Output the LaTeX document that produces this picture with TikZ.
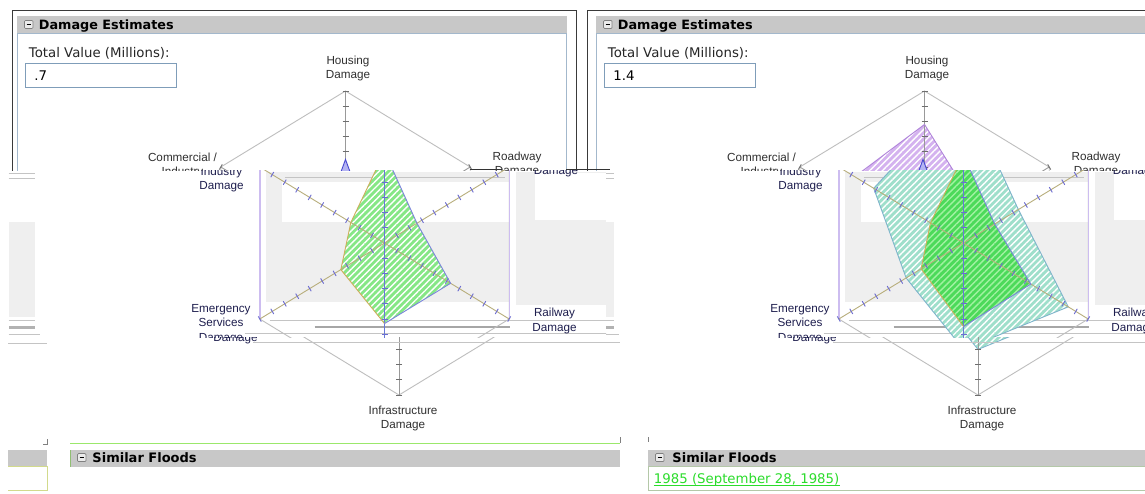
\documentclass[tikz,border=0pt]{standalone}
\usepackage{fontspec}
\setmainfont{DejaVu Sans}
\newfontfamily\arialf{Liberation Sans}
\usetikzlibrary{patterns.meta}
\definecolor{hdrgrey}{HTML}{C8C8C8}
\definecolor{boxblue}{HTML}{A3B8CC}
\definecolor{fieldblue}{HTML}{7F9DB9}
\definecolor{hexcol}{HTML}{BEBEBE}
\definecolor{axgrey}{HTML}{999999}
\definecolor{tickgrey}{HTML}{6E6E6E}
\definecolor{khaki}{HTML}{B8AE7C}
\definecolor{tickblue}{HTML}{6B6BD0}
\definecolor{axblue}{HTML}{6878D8}
\definecolor{lav}{HTML}{CDBDF0}
\definecolor{artgrey}{HTML}{EFEFEF}
\definecolor{artline}{HTML}{C4C4C4}
\definecolor{grnA}{HTML}{86E786}
\definecolor{grnB}{HTML}{4CDA5A}
\definecolor{grnBs}{HTML}{A2F2A2}
\definecolor{teal1}{HTML}{9FDFCB}
\definecolor{tealedge}{HTML}{80B4CC}
\definecolor{purp}{HTML}{D4B2EF}
\definecolor{purpedge}{HTML}{B084DA}
\definecolor{spikef}{HTML}{B4B4F2}
\definecolor{spikee}{HTML}{4848D0}
\definecolor{edgegold}{HTML}{CFAE5C}
\definecolor{edgeblue}{HTML}{7C84DC}
\definecolor{lbltop}{HTML}{303030}
\definecolor{lblmid}{HTML}{1E1E4E}
\definecolor{linkgreen}{HTML}{2BDC2B}
\definecolor{sepgreen}{HTML}{9BE86B}
\definecolor{framek}{HTML}{3A3A3A}
\definecolor{boxyellow}{HTML}{D2DA8C}
\definecolor{boxgreen}{HTML}{B4C8A8}

\newcommand\hdrfont{\fontsize{12.8}{15}\selectfont\bfseries}
\newcommand\uifont{\fontsize{13.3}{16}\selectfont}
\newcommand\sfhfont{\fontsize{13}{16}\selectfont\bfseries}
\newcommand\lblfont{\arialf\fontsize{11.7}{14}\selectfont}

\tikzset{
  hatchw/.style={postaction={pattern={Lines[angle=45,distance=4.5pt,line width=1.4pt]},pattern color=#1}},
  axlbl/.style={anchor=base,font=\lblfont,text=#1,inner sep=0pt},
}

% hexagon outline
\newcommand\myhexa[3]{%
  \draw[#3] (#1,{#2-152}) -- ({#1+124.7},{#2-76}) -- ({#1+124.7},{#2+76}) -- (#1,{#2+152}) -- ({#1-124.7},{#2+76}) -- ({#1-124.7},{#2-76}) -- cycle;}
% spokes with ticks
\newcommand\myspokes[4]{%
  \foreach \a in {90,30,-30,-90,210,150}{%
    \draw[#3] (#1,#2) -- ({#1+144*cos(\a)},{#2-152*sin(\a)});
    \foreach \k in {1,...,10}{%
      \draw[#4] ({#1+\k*14.4*cos(\a)-3*sin(\a)},{#2-\k*15.2*sin(\a)-3*cos(\a)}) -- ({#1+\k*14.4*cos(\a)+3*sin(\a)},{#2-\k*15.2*sin(\a)+3*cos(\a)});
    }%
  }%
}
% data points
\newcommand\myrpts[8]{%
  \coordinate (pH) at (#1,{#2-#3*152});
  \coordinate (pR) at ({#1+#4*124.7},{#2-#4*76});
  \coordinate (pRl) at ({#1+#5*124.7},{#2+#5*76});
  \coordinate (pI) at (#1,{#2+#6*152});
  \coordinate (pE) at ({#1-#7*124.7},{#2+#7*76});
  \coordinate (pC) at ({#1-#8*124.7},{#2-#8*76});}
\newcommand\mypolypath{(pH) -- (pR) -- (pRl) -- (pI) -- (pE) -- (pC) -- cycle}
% axis labels, split by the band in which they show
\newcommand\labelstop[2]{%
  \node[axlbl=lbltop] (lh1) at ({#1+2.5},{#2-178.5}) {Housing};
  \node[axlbl=lbltop] (lh2) at ({#1+2.5},{#2-164.5}) {Damage};
  \node[axlbl=lbltop] (lc1) at ({#1-163},{#2-82}) {Commercial /};
  \node[axlbl=lbltop] (lct) at ({#1-163},{#2-68}) {Industry};
  \node[axlbl=lbltop] (lr1) at ({#1+171.5},{#2-83}) {Roadway};
  \node[axlbl=lbltop] (lrt) at ({#1+171.5},{#2-69}) {Damage};}
\newcommand\labelsmid[2]{%
  \node[axlbl=lblmid] (lc2) at ({#1-163},{#2-68}) {Industry};
  \node[axlbl=lblmid] (lc3) at ({#1-163},{#2-54}) {Damage};
  \node[axlbl=lblmid] (lr2) at ({#1+171.5},{#2-69}) {Damage};
  \node[axlbl=lblmid] (ll1) at ({#1+170},{#2+73}) {Railway};
  \node[axlbl=lblmid] (ll2) at ({#1+170},{#2+88}) {Damage};
  \node[axlbl=lblmid] (le1) at ({#1-163.5},{#2+69}) {Emergency};
  \node[axlbl=lblmid] (le2) at ({#1-163.5},{#2+83.5}) {Services};
  \node[axlbl=lblmid] (le3) at ({#1-163.5},{#2+98}) {Damage};}
\newcommand\labelsbot[2]{%
  \node[axlbl=lblmid] (leb) at ({#1-163.5},{#2+98}) {Damage};
  \node[axlbl=lbltop] (li1) at ({#1+4},{#2+171}) {Infrastructure};
  \node[axlbl=lbltop] (li2) at ({#1+4},{#2+185}) {Damage};}
% top part of a panel
\newcommand\mypaneltop[3]{%
  \draw[framek, line width=1pt] (#2,175) -- (#2,10.5) -- ({576+#1},10.5) -- ({576+#1},175);
  \fill[hdrgrey] ({16.5+#1},16) rectangle ({566.5+#1},33);
  \draw[boxblue, line width=1pt] ({17+#1},175) -- ({17+#1},33) -- ({566+#1},33) -- ({566+#1},175);
  \draw[fill=black!8, draw=gray, line width=0.7pt, rounded corners=1pt] ({24.5+#1},20.5) rectangle ({33+#1},28.5);
  \draw[black, line width=1.2pt] ({26.5+#1},24.5) -- ({31+#1},24.5);
  \node[anchor=base west, font=\hdrfont, inner sep=0pt] (hdr#1) at ({38.5+#1},29.8) {Damage Estimates};
  \node[anchor=base west, font=\uifont, text=black!85, inner sep=0pt] (tv#1) at ({28.5+#1},57.5) {Total Value (Millions):};
  \draw[fieldblue, line width=1pt] ({25+#1},63.5) rectangle ({176.5+#1},87);
  \node[anchor=base west, font=\uifont, inner sep=0pt] (val#1) at ({34+#1},80.5) {#3};}
% middle-band artefacts
\newcommand\mymidart[1]{%
  \fill[artgrey] ({#1-376},222) rectangle ({#1-350},317);
  \fill[artgrey] ({#1-119},172) rectangle ({#1+125},302);
  \fill[white] ({#1-103},182) rectangle ({#1+125},222);
  \fill[artgrey] ({#1+131},172) rectangle ({#1+221},305);
  \fill[white] ({#1+150},173) rectangle ({#1+221},220);
  \draw[artline] ({#1-376},173) -- ({#1-350},173);
  \draw[artline] ({#1-376},178) -- ({#1-350},178);
  \draw[artline] ({#1-100},177) -- ({#1+120},177);
  \draw[artline] ({#1-376},320) -- ({#1-350},320);
  \fill[black!30] ({#1-376},325.5) rectangle ({#1-350},329);
  \draw[artline] ({#1-376},334) -- ({#1-345},334);
  \draw[artline] ({#1-115},320.5) -- ({#1+221},320.5);
  \draw[black!35,line width=1.6pt] ({#1-70},327) -- ({#1+125},327);
  \draw[artline] ({#1-140},333) -- ({#1+235},333);}
\newcommand\mymidaxes[1]{%
  \myhexa{#1}{243}{hexcol}
  \draw[lav, line width=1.4pt] ({#1-124.7},170) -- ({#1-124.7},319);
  \draw[lav, line width=1.4pt] ({#1+124.7},170) -- ({#1+124.7},319);
  \myspokes{#1}{243}{khaki}{tickblue}
  \draw[axblue] (#1,91) -- (#1,395);}

\begin{document}
\begin{tikzpicture}[x=1pt,y=-1pt,line width=0.9pt]
\fill[white] (0,0) rectangle (1145,493);
\useasboundingbox (0,0) rectangle (1145,493);

% ================= TOP BAND =================
\begin{scope}
  \clip (0,0) rectangle (1145,170);
  \mypaneltop{0}{12}{.7}
  \mypaneltop{579}{587}{1.4}
  % left chart (state A)
  \myhexa{345.5}{243}{hexcol}
  \myspokes{345.5}{243}{axgrey}{tickgrey}
  \myrpts{345.5}{243}{.55}{.2}{.05}{.05}{.05}{.2}
  \draw[fill=spikef, draw=spikee] \mypolypath;
  \labelstop{345.5}{243}
  % right chart (state A)
  \myrpts{924.5}{243}{.78}{.43}{.3}{.3}{.3}{.70}
  \fill[purp, hatchw=white] \mypolypath;
  \myhexa{924.5}{243}{hexcol}
  \myspokes{924.5}{243}{axgrey}{tickgrey}
  \draw[purpedge] \mypolypath;
  \myrpts{923}{243}{.55}{.2}{.05}{.05}{.05}{.2}
  \draw[fill=spikef, draw=spikee] \mypolypath;
  \labelstop{924.5}{243}
  \draw[black!80] (566,169.5) -- (610,169.5);
  \draw[black!80] (470,169.5) -- (502,169.5);
\end{scope}

% ================= MIDDLE BAND =================
\begin{scope}
  \clip (0,170) rectangle (606,337);
  \mymidart{384.5}
  \myrpts{384.5}{243}{.6}{.26}{.53}{.53}{.35}{.27}
  \fill[grnA, hatchw=white] \mypolypath;
  \mymidaxes{384.5}
  \draw[edgegold] (pI) -- (pE) -- (pC) -- (pH);
  \draw[edgeblue] (pH) -- (pR) -- (pRl) -- (pI);
  \labelsmid{384.5}{243}
\end{scope}
\begin{scope}
  \clip (606,170) rectangle (1145,337);
  \mymidart{963.5}
  \myrpts{963.5}{243}{1}{.44}{.84}{.70}{.46}{.72}
  \fill[teal1, hatchw=white] \mypolypath;
  \draw[tealedge] \mypolypath;
  \myrpts{963.5}{243}{.58}{.25}{.54}{.55}{.34}{.265}
  \fill[grnB, hatchw=grnBs] \mypolypath;
  \mymidaxes{963.5}
  \draw[edgegold] (pI) -- (pE) -- (pC) -- (pH);
  \draw[edgeblue] (pH) -- (pR) -- (pRl) -- (pI);
  \labelsmid{963.5}{243}
\end{scope}

% ================= BOTTOM BAND =================
\begin{scope}
  \clip (0,337) rectangle (634,493);
  \myhexa{399}{243}{hexcol}
  \myspokes{399}{243}{axgrey}{tickgrey}
  \labelsbot{399}{243}
  \draw[artline] (253,342) -- (620,342);
  \draw[artline] (8,343) -- (47,343);
  \draw[sepgreen, line width=1pt] (70,443) -- (620,443);
  \draw[gray, line width=0.8pt] (620,437) -- (620,443);
  \draw[gray, line width=0.8pt] (47,439) -- (47,444) -- (43,444);
  \fill[hdrgrey] (70,450) rectangle (620,466.5);
  \draw[sepgreen!60!gray] (70,450) -- (70,466.5);
  \draw[fill=black!8, draw=gray, line width=0.7pt, rounded corners=1pt] (77.5,453.5) rectangle (86,461.5);
  \draw[black, line width=1.2pt] (79.5,457.5) -- (84,457.5);
  \node[anchor=base west, font=\sfhfont, inner sep=0pt] (sf0) at (92,462) {Similar Floods};
  \fill[hdrgrey] (8,450) rectangle (47,466.5);
  \draw[boxyellow] (8,466.5) -- (47,466.5) -- (47,490) -- (8,490);
\end{scope}
\begin{scope}
  \clip (634,337) rectangle (1145,493);
  \myrpts{978}{243}{1}{.44}{.84}{.70}{.46}{.72}
  \fill[teal1, hatchw=white] \mypolypath;
  \draw[tealedge] \mypolypath;
  \myhexa{978}{243}{hexcol}
  \myspokes{978}{243}{axgrey}{tickgrey}
  \labelsbot{978}{243}
  \draw[artline] (833,342) -- (1145,342);
  \draw[gray, line width=0.8pt] (648.5,437) -- (648.5,442);
  \fill[hdrgrey] (648,450) rectangle (1145,466.5);
  \draw[fill=black!8, draw=gray, line width=0.7pt, rounded corners=1pt] (655.5,453.5) rectangle (664,461.5);
  \draw[black, line width=1.2pt] (657.5,457.5) -- (662,457.5);
  \node[anchor=base west, font=\sfhfont, inner sep=0pt] (sf1) at (672,462) {Similar Floods};
  \draw[boxgreen] (648,466.5) rectangle (1150,490);
  \node[anchor=base west, font=\uifont, text=linkgreen, inner sep=0pt] (lnk) at (653.5,483) {1985 (September 28, 1985)};
  \draw[linkgreen] ([yshift=-2.5pt]lnk.base west) -- ([yshift=-2.5pt]lnk.base east);
\end{scope}
\end{tikzpicture}
\end{document}
